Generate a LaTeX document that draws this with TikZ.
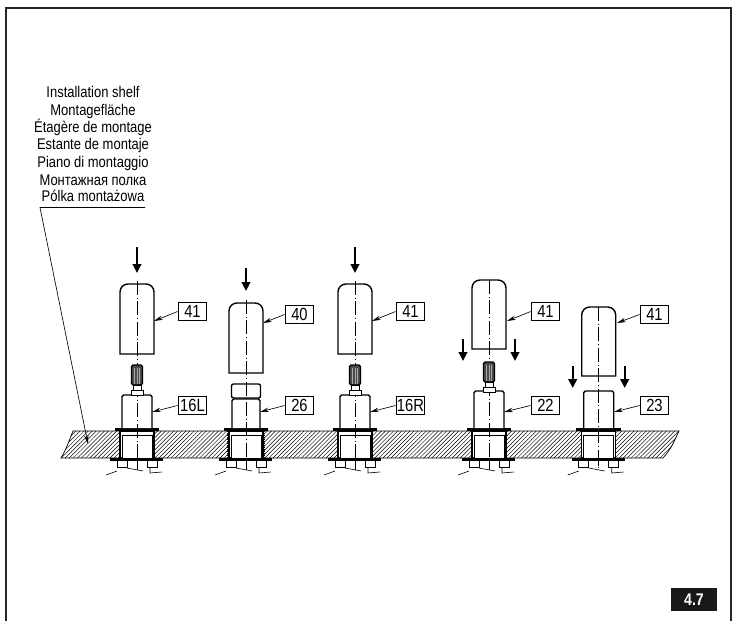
\documentclass[tikz,border=0pt]{standalone}
\usepackage{fontspec}
\setmainfont{Liberation Sans}
\newfontfamily\narrowfont[FakeStretch=0.84]{Liberation Sans}
\usetikzlibrary{arrows.meta,patterns.meta}

\tikzset{
    part/.style={draw, line width=0.35mm, fill=white},
    thin part/.style={draw, line width=0.25mm, fill=white},
    axis/.style={line width=0.14mm, dash pattern=on 3.5mm off 0.7mm on 0.2mm off 0.7mm},
    push/.style={line width=0.6mm, -{Triangle[length=2.2mm,width=2.1mm]}},
    leader/.style={line width=0.16mm, -{Stealth[length=2.2mm,width=1.1mm]}},
    tag/.style={draw, line width=0.25mm, inner sep=0, minimum width=7.2mm, minimum height=4.7mm,
        font=\narrowfont\fontsize{12.5}{13}\selectfont},
    shelf text/.style={font=\narrowfont\fontsize{11}{12}\selectfont, inner sep=0, anchor=base}
}

\newcommand{\fixing}{
    \draw[line width=0.25mm] (-20, 460) -- (-20, 467) -- (-10, 467) -- (-10, 460) (10, 460) -- (10, 467) -- (20, 467) -- (20, 460) (0, 460) -- (0, 466);
    \draw[line width=0.15mm] (-31, 475) -- (-20, 471) (-10, 468) -- (6, 471) (13, 467) -- (13, 473) -- (25, 472);
    \draw[part] (-17, 431) rectangle (17, 458);
    \draw[thin part] (-15, 435) rectangle (15, 458);
    \draw[line width=0.7mm] (-27, 459.5) -- (26, 459.5);
    \draw[line width=0.8mm] (-22.5, 429.5) -- (22, 429.5);
}
\newcommand{\spline}[1]{
    \begin{scope}[yshift=#1*-0.25mm]
        \draw[thin part] (-6, 25) rectangle (6, 30);
        \draw[thin part] (-4, 20) rectangle (4, 25);
        \draw[part, fill=black!70, rounded corners=0.4mm] (-5.5, 0) rectangle (5.5, 20);
        \draw[black!35, line width=0.1mm] (-2.5, 3) -- (-2.5, 19) (0, 3) -- (0, 19) (2.5, 3) -- (2.5, 19);
    \end{scope}
}
\newcommand{\sleeve}[2]{
    \draw[part] (-17, #2) [rounded corners=2mm] -- (-17, #1) -- (17, #1) [sharp corners] -- (17, #2) -- cycle;
}

\begin{document}
\begin{tikzpicture}[x=0.25mm, y=-0.25mm]
    \useasboundingbox (0, 0) rectangle (735, 621);
    \draw[line width=0.5mm, black!85] (5.5, 621) -- (5.5, 7.5) -- (731, 7.5) -- (731, 621);

    \draw[line width=0.18mm, pattern={Lines[angle=45, distance=0.72mm, line width=0.12mm]}]
        (73, 431) -- (679, 431) .. controls (674, 441) and (672, 448) .. (663, 458) -- (61, 458) .. controls (66, 450) and (69, 441) .. (73, 431) -- cycle;

    \node[shelf text] (shelf1) at (93, 97) {Installation shelf};
    \node[shelf text] (shelf2) at (93, 115) {Montagefläche};
    \node[shelf text] (shelf3) at (93, 132) {Étagère de montage};
    \node[shelf text] (shelf4) at (93, 149.5) {Estante de montaje};
    \node[shelf text] (shelf5) at (93, 167) {Piano di montaggio};
    \node[shelf text] (shelf6) at (93, 185) {Монтажная полка};
    \node[shelf text] (shelf7) at (93, 201) {Pólka montażowa};
    \coordinate (shelfstart) at (145, 207.5);
    \coordinate (shelfknee) at (40, 207.5);
    \coordinate (shelftip) at (88, 444);
    \draw[leader] (shelfstart) -- (shelfknee) -- (shelftip);

    % first shaft
    \begin{scope}[xshift=137*0.25mm]
        \fixing
        \draw[part, rounded corners=0.4mm] (-15, 428) -- (-15, 395) -- (15, 395) -- (15, 428);
        \sleeve{284}{354}
        \draw[axis] (0, 281) -- (0, 470);
        \spline{365}
        \draw[push] (0, 247) -- (0, 273);
    \end{scope}
    \node[tag] (tagA) at (192.5, 311.5) {41};
    \node[tag] (tagB) at (192.5, 405.5) {16L};
    \coordinate (capA) at (154, 321);
    \coordinate (bodyB) at (152, 412);
    \draw[leader] (tagA.west) -- (capA);
    \draw[leader] (tagB.west) -- (bodyB);

    % second shaft
    \begin{scope}[xshift=246*0.25mm]
        \draw[line width=0.15mm, densely dotted] (-19, 431) -- (-19, 458) (18, 431) -- (18, 458);
        \fixing
        \draw[part, rounded corners=0.4mm] (-14, 428) -- (-14, 399) -- (14, 399) -- (14, 428);
        \draw[part, rounded corners=0.5mm] (-14.5, 384) rectangle (14.5, 398);
        \sleeve{303}{373}
        \draw[axis] (0, 300) -- (0, 470);
        \draw[push] (0, 268) -- (0, 291);
    \end{scope}
    \node[tag] (tagC) at (299.5, 314.5) {40};
    \node[tag] (tagD) at (299.5, 405.5) {26};
    \coordinate (capC) at (263, 323);
    \coordinate (bodyD) at (260, 412);
    \draw[leader] (tagC.west) -- (capC);
    \draw[leader] (tagD.west) -- (bodyD);

    % third shaft
    \begin{scope}[xshift=355*0.25mm]
        \fixing
        \draw[part, rounded corners=0.4mm] (-15, 428) -- (-15, 395) -- (15, 395) -- (15, 428);
        \sleeve{284}{354}
        \draw[axis] (0, 281) -- (0, 470);
        \spline{365}
        \draw[push] (0, 247) -- (0, 273);
    \end{scope}
    \node[tag] (tagE) at (410.5, 311.5) {41};
    \node[tag] (tagF) at (410.5, 405.5) {16R};
    \coordinate (capE) at (372, 321);
    \coordinate (bodyF) at (370, 412);
    \draw[leader] (tagE.west) -- (capE);
    \draw[leader] (tagF.west) -- (bodyF);

    % fourth shaft
    \begin{scope}[xshift=489*0.25mm]
        \fixing
        \draw[part, rounded corners=0.4mm] (-15, 428) -- (-15, 391) -- (15, 391) -- (15, 428);
        \sleeve{280}{349}
        \draw[axis] (0, 280) -- (0, 470);
        \spline{362}
        \draw[push] (-26, 339) -- (-26, 361);
        \draw[push] (26, 339) -- (26, 361);
    \end{scope}
    \node[tag] (tagG) at (545.5, 311.5) {41};
    \node[tag] (tagH) at (545.5, 405.5) {22};
    \coordinate (capG) at (507, 321);
    \coordinate (bodyH) at (504, 412);
    \draw[leader] (tagG.west) -- (capG);
    \draw[leader] (tagH.west) -- (bodyH);

    % fifth shaft
    \begin{scope}[xshift=598.7*0.25mm]
        \fixing
        \draw[part, rounded corners=0.4mm] (-15, 428) -- (-15, 391) -- (15, 391) -- (15, 428);
        \sleeve{307}{376}
        \draw[axis] (0, 307) -- (0, 470);
        \draw[push] (-26, 366) -- (-26, 388);
        \draw[push] (26, 366) -- (26, 388);
    \end{scope}
    \node[tag] (tagI) at (654.5, 314.5) {41};
    \node[tag] (tagJ) at (654.5, 405.5) {23};
    \coordinate (capI) at (617, 323);
    \coordinate (bodyJ) at (614, 412);
    \draw[leader] (tagI.west) -- (capI);
    \draw[leader] (tagJ.west) -- (bodyJ);

    \node[fill=black!90, text=white, minimum width=11.4mm, minimum height=5.7mm, inner sep=0,
        font=\narrowfont\fontsize{12}{12}\selectfont\bfseries] (sheet) at (694, 599.5) {4.7};
\end{tikzpicture}
\end{document}
